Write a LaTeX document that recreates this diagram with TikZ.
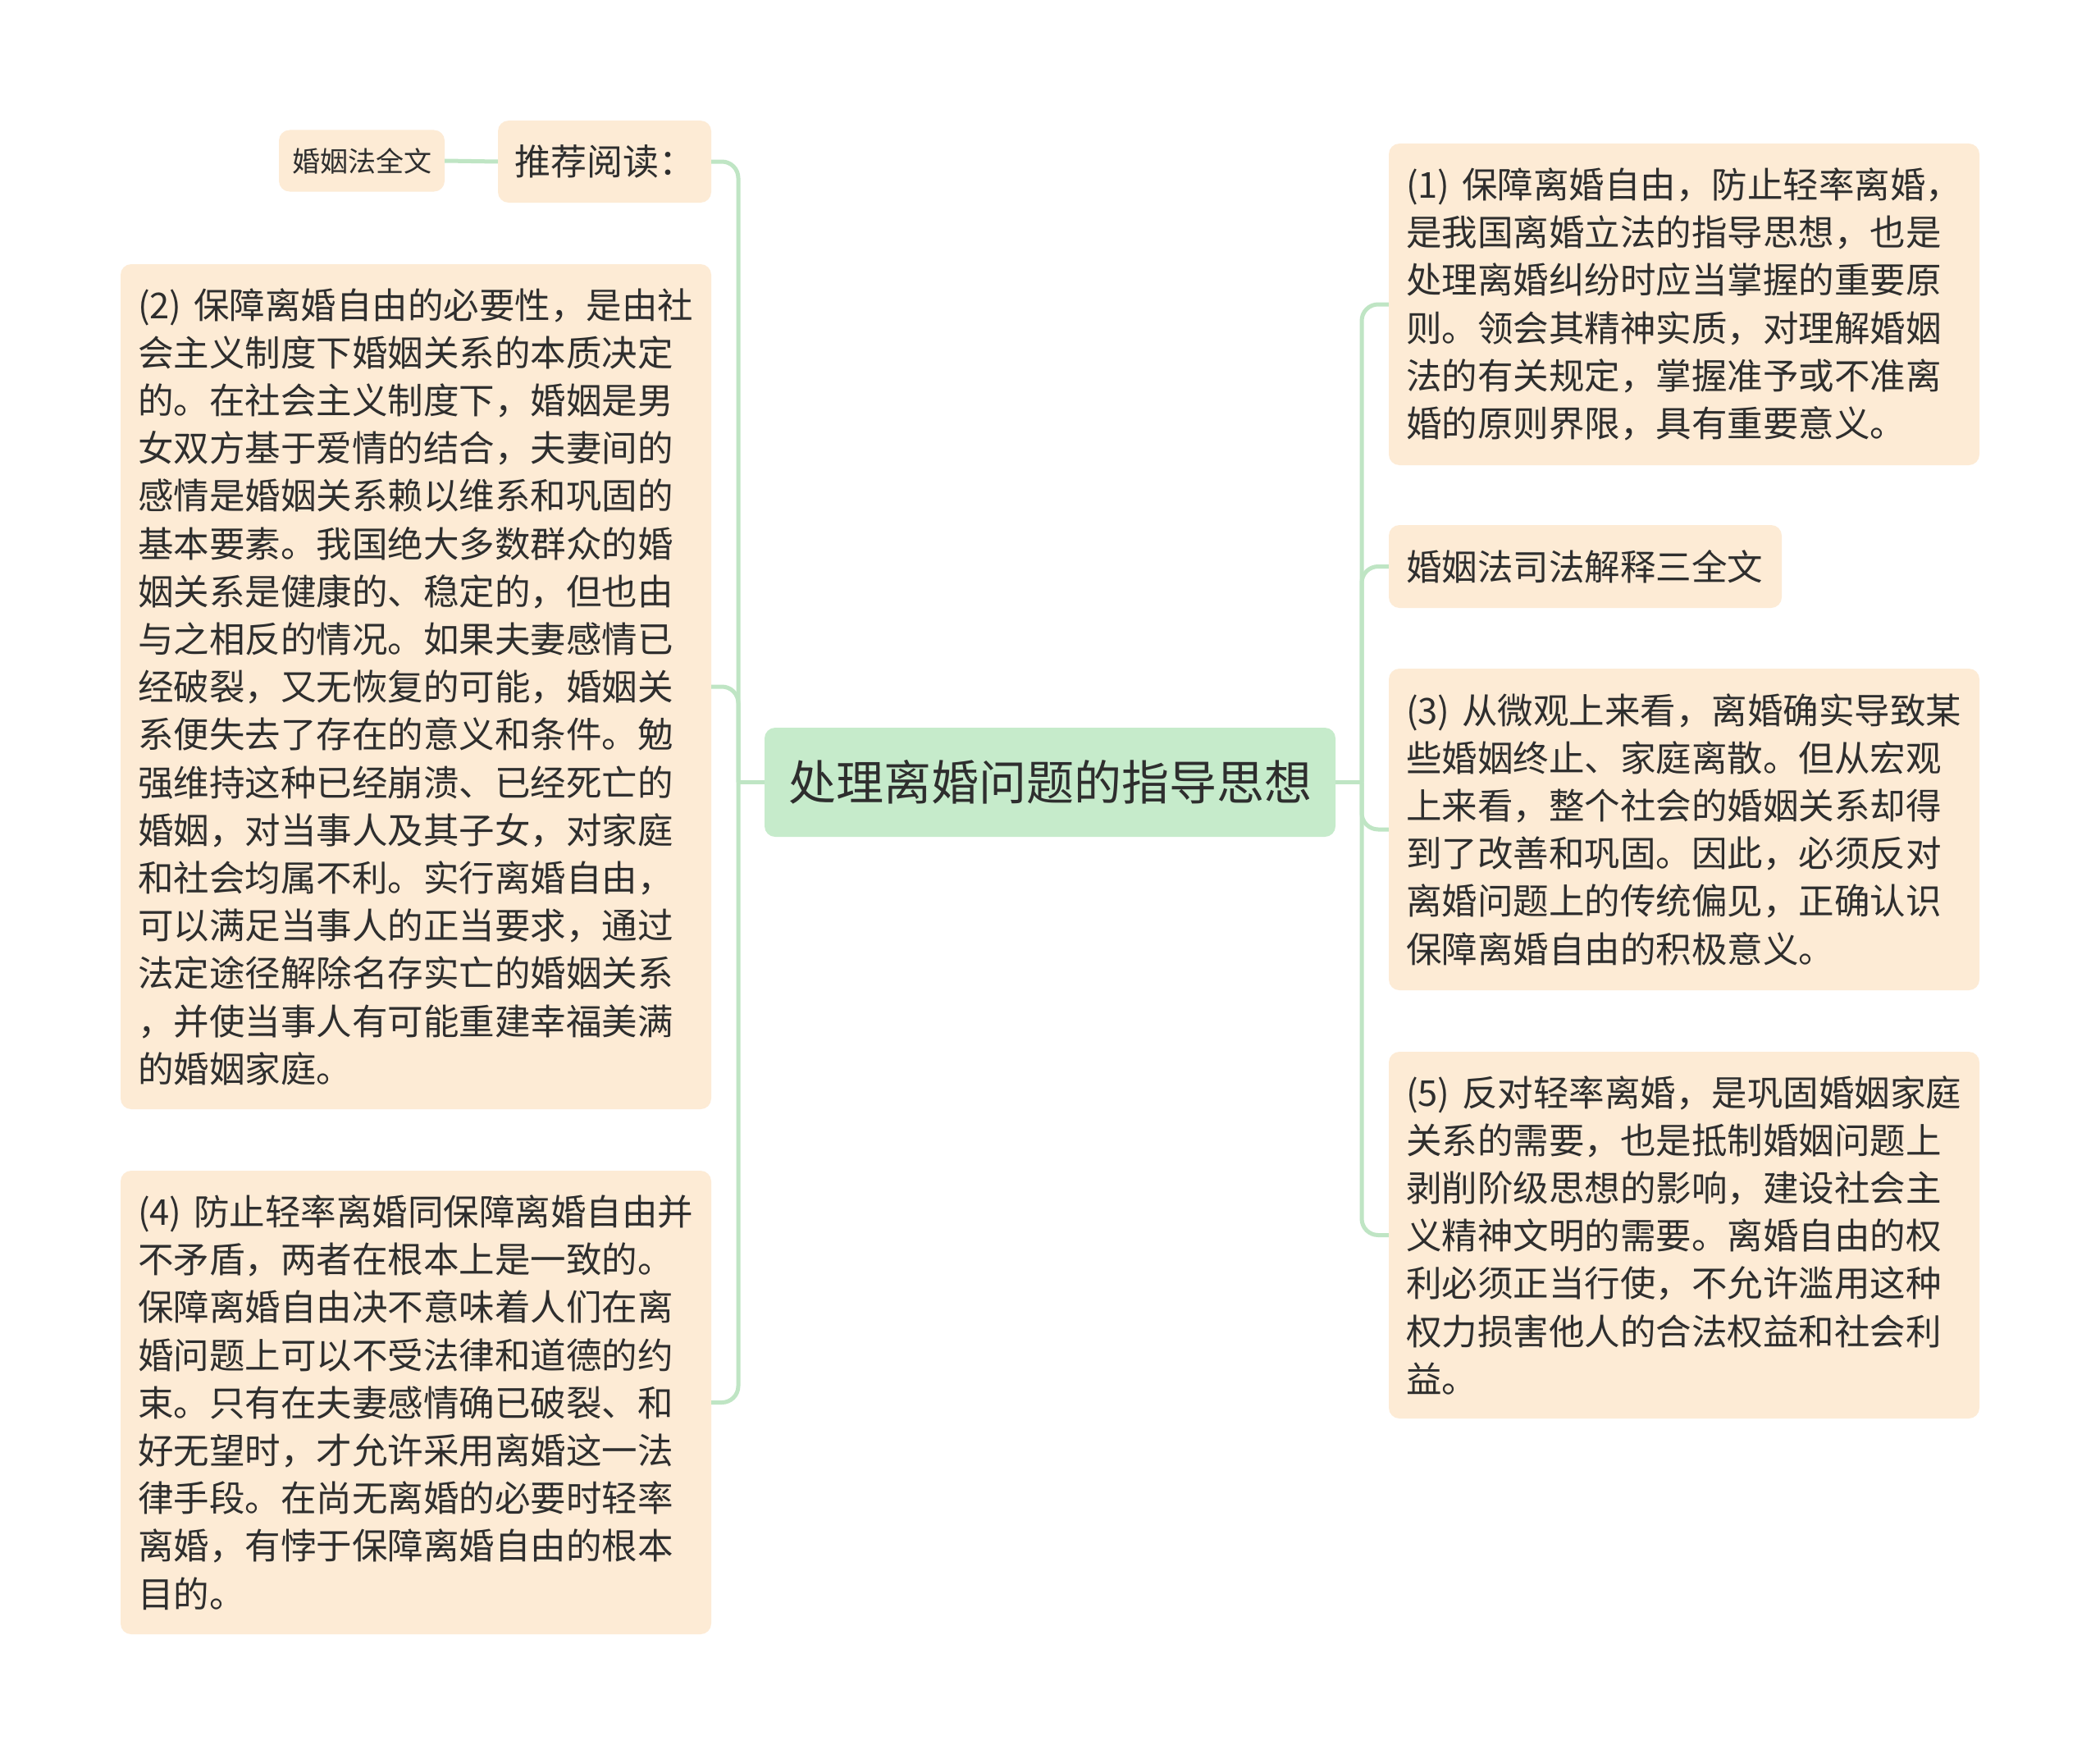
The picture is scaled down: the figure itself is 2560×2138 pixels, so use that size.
\documentclass[tikz,border=0pt]{standalone}
\usepackage{fontspec}
\setmainfont{Noto Sans CJK SC}
\definecolor{peach}{HTML}{FDEBD5}
\definecolor{mint}{HTML}{C6EBCB}
\definecolor{linkc}{HTML}{BFE5C4}
\definecolor{txt}{HTML}{2E2E2E}
\tikzset{
  leaf/.style={fill=peach, rounded corners=13pt, inner xsep=21pt, inner ysep=0pt,
    text=txt, font=\fontsize{43.5}{58.2}\selectfont, align=left, anchor=center},
  rootbox/.style={fill=mint, rounded corners=13pt, inner sep=0pt, text=txt,
    font=\fontsize{58}{70}\selectfont, anchor=center},
  conn/.style={draw=linkc, line width=5pt, rounded corners=20pt},
}
\begin{document}
\begin{tikzpicture}[x=1pt,y=-1pt]
\useasboundingbox[fill=white] (0,0) rectangle (2560,2138);

% center
\node[rootbox, minimum width=696pt, minimum height=133pt] (c) at (1280,953.5) {处理离婚问题的指导思想};

% left side
\node[leaf, minimum width=260pt, minimum height=100pt, inner xsep=0pt, align=center,
      font=\fontsize{44}{52}\selectfont] (tj) at (737,197) {推荐阅读：};
\node[leaf, minimum width=202pt, minimum height=75pt, inner xsep=0pt, align=center,
      font=\fontsize{34}{40}\selectfont] (hy) at (441,196) {婚姻法全文};
\node[leaf, text width=678pt, minimum height=1030pt] (n2) at (507,837) {%
(2) 保障离婚自由的必要性，是由社\\
会主义制度下婚姻关系的本质决定\\
的。在社会主义制度下，婚姻是男\\
女双方基于爱情的结合，夫妻间的\\
感情是婚姻关系赖以维系和巩固的\\
基本要素。我国绝大多数群众的婚\\
姻关系是健康的、稳定的，但也由\\
与之相反的情况。如果夫妻感情已\\
经破裂，又无恢复的可能，婚姻关\\
系便失去了存在的意义和条件。勉\\
强维持这种已经崩溃、已经死亡的\\
婚姻，对当事人及其子女，对家庭\\
和社会均属不利。实行离婚自由，\\
可以满足当事人的正当要求，通过\\
法定途径解除名存实亡的婚姻关系\\
，并使当事人有可能重建幸福美满\\
的婚姻家庭。};
\node[leaf, text width=678pt, minimum height=565pt] (n4) at (507,1709.5) {%
(4) 防止轻率离婚同保障离婚自由并\\
不矛盾，两者在根本上是一致的。\\
保障离婚自由决不意味着人们在离\\
婚问题上可以不受法律和道德的约\\
束。只有在夫妻感情确已破裂、和\\
好无望时，才允许采用离婚这一法\\
律手段。在尚无离婚的必要时轻率\\
离婚，有悖于保障离婚自由的根本\\
目的。};

% right side
\node[leaf, text width=678pt, minimum height=392pt] (n1) at (2053,371) {%
(1) 保障离婚自由，防止轻率离婚，\\
是我国离婚立法的指导思想，也是\\
处理离婚纠纷时应当掌握的重要原\\
则。领会其精神实质，对理解婚姻\\
法的有关规定，掌握准予或不准离\\
婚的原则界限，具有重要意义。};
\node[leaf, text width=437pt, minimum height=101pt] (sf) at (1932.5,690.5) {婚姻法司法解释三全文};
\node[leaf, text width=678pt, minimum height=392pt] (n3) at (2053,1011) {%
(3) 从微观上来看，离婚确实导致某\\
些婚姻终止、家庭离散。但从宏观\\
上来看，整个社会的婚姻关系却得\\
到了改善和巩固。因此，必须反对\\
离婚问题上的传统偏见，正确认识\\
保障离婚自由的积极意义。};
\node[leaf, text width=678pt, minimum height=447pt] (n5) at (2053,1505.5) {%
(5) 反对轻率离婚，是巩固婚姻家庭\\
关系的需要，也是抵制婚姻问题上\\
剥削阶级思想的影响，建设社会主\\
义精神文明的需要。离婚自由的权\\
利必须正当行使，不允许滥用这种\\
权力损害他人的合法权益和社会利\\
益。};

% connectors
\coordinate (jl) at (900,953.5);
\coordinate (jr) at (1660,953.5);
\draw[conn] (c.west) -- (jl);
\draw[conn] (c.east) -- (jr);
\draw[conn] (jl) |- (tj.east);
\draw[conn] (jl) |- (n2.east);
\draw[conn] (jl) |- (n4.east);
\draw[conn] (jr) |- (n1.west);
\draw[conn] (jr) |- (sf.west);
\draw[conn] (jr) |- (n3.west);
\draw[conn] (jr) |- (n5.west);
\draw[conn] (tj.west) -- (hy.east);
\end{tikzpicture}
\end{document}
